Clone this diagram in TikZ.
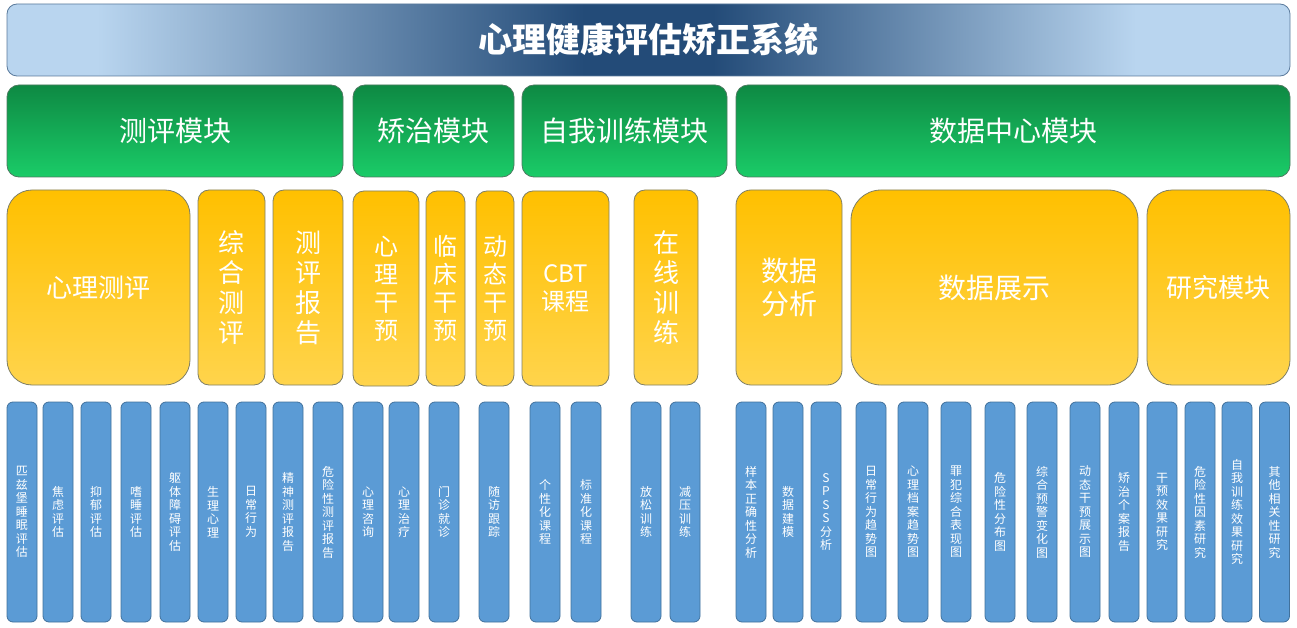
\documentclass[tikz,border=0pt]{standalone}
\usepackage{fontspec}
\setmainfont{Noto Sans CJK SC}
\usepackage{tikz}
\usetikzlibrary{positioning}

\definecolor{titlelight}{HTML}{B9D5EF}
\definecolor{titledark}{HTML}{234B78}
\definecolor{titleline}{HTML}{5A7A9C}
\definecolor{greentop}{HTML}{0E8943}
\definecolor{greenbot}{HTML}{1ACC68}
\definecolor{greenline}{HTML}{4C7A60}
\definecolor{yellowtop}{HTML}{FFC000}
\definecolor{yellowbot}{HTML}{FFD44C}
\definecolor{yellowline}{HTML}{7F7F66}
\definecolor{itemfill}{HTML}{5B9BD5}
\definecolor{itemline}{HTML}{41719C}

\pgfdeclarehorizontalshading{titleshade}{100bp}{color(0bp)=(titlelight); color(25bp)=(titlelight);
  color(28.5bp)=(titlelight); color(47.5bp)=(titledark); color(52.5bp)=(titledark); color(69bp)=(titlelight);
  color(75bp)=(titlelight); color(100bp)=(titlelight)}

\begin{document}
\begin{tikzpicture}[x=1pt,y=-1pt,line width=0.8pt]
  \tikzstyle{titlebox}=[rectangle, rounded corners=10pt, draw=titleline, shading=titleshade,
    minimum width=1283pt, minimum height=72pt, inner sep=0pt, text=white,
    font=\fontsize{34}{37}\selectfont\bfseries]
  \tikzstyle{modulebox}=[rectangle, rounded corners=12pt, draw=greenline, top color=greentop,
    bottom color=greenbot, minimum height=92pt, inner sep=0pt, text=white,
    font=\fontsize{28}{32}\selectfont]
  \tikzstyle{subbox}=[rectangle, rounded corners=11pt, draw=yellowline, top color=yellowtop,
    bottom color=yellowbot, minimum height=195pt, inner sep=0pt, text=white, align=center,
    font=\fontsize{26}{30}\selectfont]
  \tikzstyle{itembox}=[rectangle, rounded corners=6pt, draw=itemline, fill=itemfill,
    minimum width=30pt, minimum height=220pt, inner sep=0pt, text=white, align=center,
    font=\fontsize{12}{13.5}\selectfont]

  \useasboundingbox (0,0) rectangle (1297,628);

  % title
  \node[titlebox] (Title) at (648.5,40) {心理健康评估矫正系统};

  % modules
  \node[modulebox, minimum width=336pt] (M1) at (175,131)    {测评模块};
  \node[modulebox, minimum width=161pt] (M2) at (433.5,131)  {矫治模块};
  \node[modulebox, minimum width=205pt] (M3) at (624.5,131)  {自我训练模块};
  \node[modulebox, minimum width=554pt] (M4) at (1013,131)   {数据中心模块};

  % sub modules
  \node[subbox, minimum width=183pt, rounded corners=25pt] (S1) at (98.5,287.5) {心理测评};
  \node[subbox, minimum width=67pt]  (S2) at (231.5,287.5) {综\\合\\测\\评};
  \node[subbox, minimum width=70pt]  (S3) at (308,287.5)   {测\\评\\报\\告};
  \node[subbox, minimum width=66pt, font=\fontsize{24}{28}\selectfont] (S4) at (386,288.5) {心\\理\\干\\预};
  \node[subbox, minimum width=39pt, font=\fontsize{24}{28}\selectfont] (S5) at (445.5,288.5) {临\\床\\干\\预};
  \node[subbox, minimum width=38pt, font=\fontsize{24}{28}\selectfont] (S6) at (495,288.5) {动\\态\\干\\预};
  \node[subbox, minimum width=87pt, font=\fontsize{24}{28}\selectfont] (S7) at (565.5,288.5) {CBT\\课程};
  \node[subbox, minimum width=64pt]  (S8) at (666,287.5)   {在\\线\\训\\练};
  \node[subbox, minimum width=106pt, rounded corners=15pt, font=\fontsize{28}{33}\selectfont] (S9) at (789,287.5) {数据\\分析};
  \node[subbox, minimum width=287pt, rounded corners=30pt, font=\fontsize{28}{32}\selectfont] (S10) at (994.5,287.5) {数据展示};
  \node[subbox, minimum width=143pt, rounded corners=25pt] (S11) at (1218.5,287.5) {研究模块};

  % items
  \node[itembox] (B1)  at (22,512)   {匹\\兹\\堡\\睡\\眠\\评\\估};
  \node[itembox] (B2)  at (58,512)   {焦\\虑\\评\\估};
  \node[itembox] (B3)  at (96,512)   {抑\\郁\\评\\估};
  \node[itembox] (B4)  at (136,512)  {嗜\\睡\\评\\估};
  \node[itembox] (B5)  at (175,512)  {躯\\体\\障\\碍\\评\\估};
  \node[itembox] (B6)  at (213,512)  {生\\理\\心\\理};
  \node[itembox] (B7)  at (251,512)  {日\\常\\行\\为};
  \node[itembox] (B8)  at (288,512)  {精\\神\\测\\评\\报\\告};
  \node[itembox] (B9)  at (328,512)  {危\\险\\性\\测\\评\\报\\告};
  \node[itembox] (B10) at (368,512)  {心\\理\\咨\\询};
  \node[itembox] (B11) at (404,512)  {心\\理\\治\\疗};
  \node[itembox] (B12) at (444,512)  {门\\诊\\就\\诊};
  \node[itembox] (B13) at (494,512)  {随\\访\\跟\\踪};
  \node[itembox] (B14) at (545,512)  {个\\性\\化\\课\\程};
  \node[itembox] (B15) at (586,512)  {标\\准\\化\\课\\程};
  \node[itembox] (B16) at (646,512)  {放\\松\\训\\练};
  \node[itembox] (B17) at (685,512)  {减\\压\\训\\练};
  \node[itembox] (B18) at (751,512)  {样\\本\\正\\确\\性\\分\\析};
  \node[itembox] (B19) at (788,512)  {数\\据\\建\\模};
  \node[itembox] (B20) at (826,512)  {S\\P\\S\\S\\分\\析};
  \node[itembox] (B21) at (871,512)  {日\\常\\行\\为\\趋\\势\\图};
  \node[itembox] (B22) at (913,512)  {心\\理\\档\\案\\趋\\势\\图};
  \node[itembox] (B23) at (956,512)  {罪\\犯\\综\\合\\表\\现\\图};
  \node[itembox] (B24) at (1000,512) {危\\险\\性\\分\\布\\图};
  \node[itembox] (B25) at (1042,512) {综\\合\\预\\警\\变\\化\\图};
  \node[itembox] (B26) at (1085,512) {动\\态\\干\\预\\展\\示\\图};
  \node[itembox] (B27) at (1124,512) {矫\\治\\个\\案\\报\\告};
  \node[itembox] (B28) at (1162,512) {干\\预\\效\\果\\研\\究};
  \node[itembox] (B29) at (1200,512) {危\\险\\性\\因\\素\\研\\究};
  \node[itembox] (B30) at (1237,512) {自\\我\\训\\练\\效\\果\\研\\究};
  \node[itembox] (B31) at (1274.5,512) {其\\他\\相\\关\\性\\研\\究};
\end{tikzpicture}
\end{document}
